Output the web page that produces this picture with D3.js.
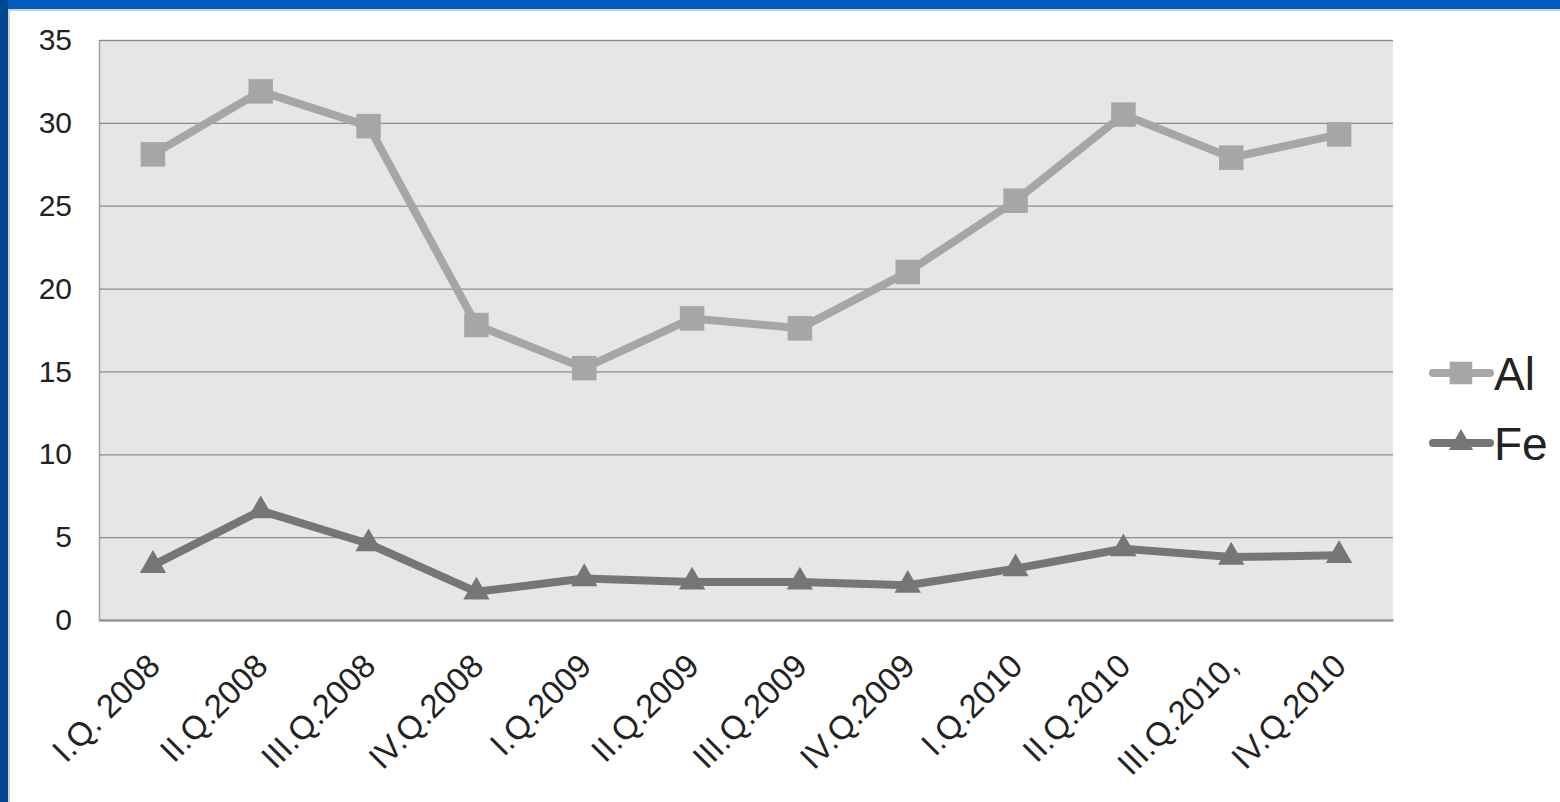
<!DOCTYPE html>
<html>
<head>
<meta charset="utf-8">
<script src="https://cdn.jsdelivr.net/npm/d3@7"></script>
<style>
  html, body { margin: 0; padding: 0; background: #fff; }
  svg { display: block; }
  text { font-family: "Liberation Sans", Arial, sans-serif; fill: #222; }
</style>
</head>
<body>
<svg id="chart" width="1560" height="802"></svg>
<script>
const categories = ["I.Q. 2008", "II.Q.2008", "III.Q.2008", "IV.Q.2008", "I.Q.2009", "II.Q.2009",
                    "III.Q.2009", "IV.Q.2009", "I.Q.2010", "II.Q.2010", "III.Q.2010,", "IV.Q.2010"];
const alValues = [28.1, 31.9, 29.8, 17.8, 15.2, 18.2, 17.6, 21.0, 25.3, 30.5, 27.9, 29.3];
const feValues = [3.3, 6.6, 4.6, 1.7, 2.5, 2.3, 2.3, 2.1, 3.1, 4.3, 3.8, 3.9];
const yTicks = [0, 5, 10, 15, 20, 25, 30, 35];
const seriesNames = ["Al", "Fe"];

const svg = d3.select("#chart");
const W = 1560, H = 802;
const plot = { left: 99, right: 1393, top: 40, bottom: 620 };

// frame
svg.append("rect").attr("x", 0).attr("y", 0).attr("width", W).attr("height", H).attr("fill", "#fff");
svg.append("rect").attr("x", 0).attr("y", 9).attr("width", W).attr("height", 2).attr("fill", "#d0d0d0");
svg.append("rect").attr("x", 8).attr("y", 0).attr("width", 2).attr("height", H).attr("fill", "#d0d0d0");
svg.append("rect").attr("x", 0).attr("y", 0).attr("width", W).attr("height", 9).attr("fill", "#005cbd");
svg.append("rect").attr("x", 0).attr("y", 0).attr("width", 8).attr("height", H).attr("fill", "#004690");

const x = d3.scaleBand().domain(categories).range([plot.left, plot.right]);
const y = d3.scaleLinear().domain([0, 35]).range([plot.bottom, plot.top]);

// plot area
svg.append("rect")
  .attr("x", plot.left).attr("y", plot.top)
  .attr("width", plot.right - plot.left).attr("height", plot.bottom - plot.top)
  .attr("fill", "#e6e6e6");

// y axis with gridlines
const yAxis = svg.append("g")
  .attr("transform", `translate(${plot.left},0)`)
  .call(d3.axisLeft(y).tickValues(yTicks).tickSize(-(plot.right - plot.left)).tickPadding(27));
yAxis.select(".domain").attr("stroke", "#a0a0a0").attr("stroke-width", 1.5);
yAxis.selectAll(".tick line").attr("stroke", "#8c8c8c").attr("stroke-width", 1.2);
yAxis.selectAll(".tick text").attr("font-size", 30).attr("fill", "#2a2a2a")
  .style("font-family", '"Liberation Sans", Arial, sans-serif');

// x axis
const xAxis = svg.append("g")
  .attr("transform", `translate(0,${plot.bottom})`)
  .call(d3.axisBottom(x).tickSize(0).tickPadding(0));
xAxis.select(".domain").attr("stroke", "#8c8c8c").attr("stroke-width", 2);
xAxis.selectAll(".tick text")
  .attr("font-size", 33).attr("fill", "#2a2a2a")
  .style("font-family", '"Liberation Sans", Arial, sans-serif')
  .attr("text-anchor", "end")
  .attr("dy", "0")
  .attr("transform", "translate(9,48) rotate(-45)");

const cx = d => x(d) + x.bandwidth() / 2;

const series = [
  { name: seriesNames[0], values: alValues, color: "#a6a6a6", marker: d3.symbolSquare, size: 600 },
  { name: seriesNames[1], values: feValues, color: "#767676", marker: d3.symbolTriangle, size: 300 }
];

const line = d3.line().x((d, i) => cx(categories[i])).y(d => y(d));

series.forEach(s => {
  svg.append("path")
    .datum(s.values)
    .attr("d", line)
    .attr("fill", "none")
    .attr("stroke", s.color)
    .attr("stroke-width", 8)
    .attr("stroke-linejoin", "round");
  svg.append("g").selectAll("path")
    .data(s.values)
    .join("path")
    .attr("transform", (d, i) => `translate(${cx(categories[i])},${y(d)})`)
    .attr("d", d3.symbol().type(s.marker).size(s.size))
    .attr("fill", s.color);
});

// legend
const legend = svg.append("g");
series.forEach((s, i) => {
  const ly = 373 + i * 70;
  legend.append("line")
    .attr("x1", 1433).attr("x2", 1490).attr("y1", ly).attr("y2", ly)
    .attr("stroke", s.color).attr("stroke-width", 8).attr("stroke-linecap", "round");
  legend.append("path")
    .attr("transform", `translate(1461,${ly})`)
    .attr("d", d3.symbol().type(s.marker).size(s.size * 0.85))
    .attr("fill", s.color);
  legend.append("text")
    .attr("x", 1494).attr("y", ly + 17)
    .attr("font-size", 46).attr("fill", "#111")
    .text(s.name);
});
</script>
</body>
</html>
